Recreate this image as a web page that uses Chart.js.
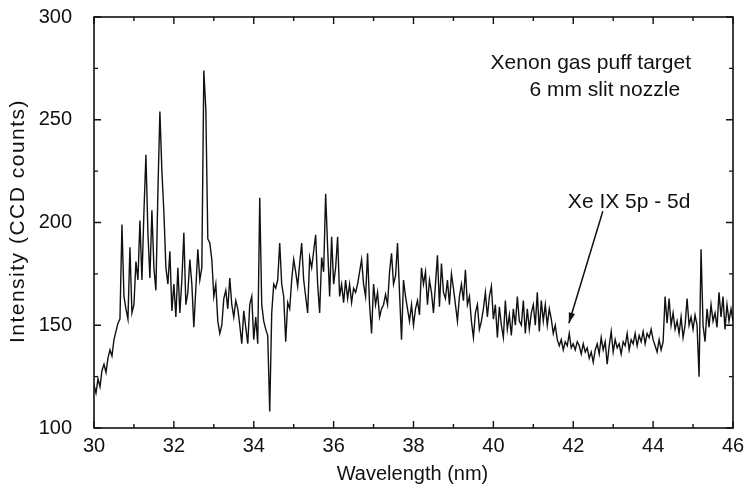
<!DOCTYPE html>
<html>
<head>
<meta charset="utf-8">
<script src="https://cdn.jsdelivr.net/npm/chart.js@4/dist/chart.umd.min.js"></script>
<style>
  html, body { margin: 0; padding: 0; background: #fff; }
  #wrap { width: 745px; height: 493px; }
</style>
</head>
<body>
<div id="wrap"><canvas id="myChart"></canvas></div>
<script>
// spectrum sampled every 0.05 nm, starting at 30 nm
var startNm = 30;
var stepNm = 0.05;
var intensity = [
  // 30 - 31
  121, 117, 124, 120, 128, 131, 127, 134, 138, 135, 143, 147, 151, 153, 199, 164, 158, 153, 188, 156,
  // 31 - 32
  160, 181, 172, 201, 172, 205, 233, 195, 173, 206, 178, 167, 215, 254, 225, 205, 178, 170, 186, 157,
  // 32 - 33
  170, 154, 178, 156, 172, 195, 160, 166, 182, 170, 149, 168, 187, 172, 178, 274, 255, 192, 190, 182,
  // 33 - 34
  164, 170, 152, 146, 150, 163, 167, 158, 173, 160, 154, 162, 158, 150, 141, 157, 149, 141, 160, 164,
  // 34 - 35
  143, 154, 141, 212, 160, 152, 148, 145, 108, 156, 170, 168, 172, 190, 170, 164, 142, 161, 158, 172,
  // 35 - 36
  182, 176, 169, 180, 190, 172, 164, 156, 183, 178, 186, 194, 170, 156, 183, 176, 214, 188, 164, 193,
  // 36 - 37
  170, 178, 193, 164, 170, 161, 172, 163, 170, 161, 168, 166, 170, 176, 182, 170, 164, 185, 160, 146,
  // 37 - 38
  170, 160, 166, 154, 158, 160, 165, 160, 176, 185, 170, 174, 190, 166, 143, 172, 164, 158, 152, 160,
  // 38 - 39
  150, 158, 162, 155, 178, 170, 176, 160, 172, 166, 156, 170, 184, 159, 180, 166, 163, 172, 160, 175,
  // 39 - 40
  168, 160, 152, 164, 170, 162, 177, 160, 164, 152, 144, 156, 160, 148, 152, 158, 166, 154, 164, 169,
  // 40 - 41
  153, 160, 144, 159, 150, 144, 162, 148, 155, 145, 158, 150, 164, 152, 150, 162, 146, 158, 148, 156,
  // 41 - 42
  160, 150, 166, 147, 162, 152, 160, 150, 158, 153, 146, 150, 143, 140, 143, 138, 142, 140, 146, 139,
  // 42 - 43
  141, 138, 142, 140, 136, 141, 137, 139, 134, 137, 132, 138, 141, 136, 144, 138, 142, 131, 140, 147,
  // 43 - 44
  137, 143, 139, 141, 136, 142, 140, 146, 138, 143, 141, 146, 140, 145, 142, 147, 141, 146, 144, 148,
  // 44 - 45
  143, 140, 137, 143, 138, 142, 164, 151, 163, 150, 156, 148, 152, 146, 154, 144, 150, 163, 150, 154,
  // 45 - 46
  148, 155, 150, 125, 187, 150, 142, 158, 149, 160, 152, 156, 149, 166, 154, 164, 148, 160, 152, 158,
  152
];

var xTicks = [30, 32, 34, 36, 38, 40, 42, 44, 46];
var yTicks = [100, 150, 200, 250, 300];
var xTitle = 'Wavelength (nm)';
var yTitle = 'Intensity (CCD counts)';

// text notes in data units
var notes = [
  { text: 'Xenon gas puff target', x: 42.44, y: 277.5 },
  { text: '6 mm slit nozzle', x: 42.79, y: 264.5 },
  { text: 'Xe IX 5p - 5d', x: 43.40, y: 210 }
];
var arrowFrom = { x: 42.74, y: 205.5 };
var arrowTo = { x: 41.89, y: 151 };

var points = [];
for (var i = 0; i < intensity.length; i++) {
  points.push({ x: +(startNm + i * stepNm).toFixed(2), y: intensity[i] });
}

var fontFam = '"Liberation Sans", Arial, sans-serif';

var framePlugin = {
  id: 'frame',
  afterDraw: function(chart) {
    var c = chart.ctx;
    var a = chart.chartArea;
    var xs = chart.scales.x, ys = chart.scales.y;
    c.save();
    c.strokeStyle = '#111';
    c.lineWidth = 1.6;
    c.strokeRect(a.left, a.top, a.right - a.left, a.bottom - a.top);
    c.lineWidth = 1.4;
    c.beginPath();
    for (var v = 30; v <= 46; v++) {
      var px = xs.getPixelForValue(v);
      var len = v % 2 === 0 ? 7 : 4;
      c.moveTo(px, a.bottom); c.lineTo(px, a.bottom - len);
      c.moveTo(px, a.top); c.lineTo(px, a.top + len);
    }
    for (var w = 100; w <= 300; w += 25) {
      var py = ys.getPixelForValue(w);
      var l2 = w % 50 === 0 ? 7 : 4;
      c.moveTo(a.left, py); c.lineTo(a.left + l2, py);
      c.moveTo(a.right, py); c.lineTo(a.right - l2, py);
    }
    c.stroke();

    c.fillStyle = '#111';
    c.textAlign = 'center';
    c.textBaseline = 'middle';

    // axis titles
    c.font = '20px ' + fontFam;
    c.fillText(xTitle, (a.left + a.right) / 2 - 1, 474);
    c.save();
    c.translate(18, 221);
    c.rotate(-Math.PI / 2);
    c.font = '21px ' + fontFam;
    c.letterSpacing = '1.5px';
    c.fillText(yTitle, 0, 0);
    c.restore();

    c.font = '21px ' + fontFam;
    notes.forEach(function(n) {
      c.fillText(n.text, xs.getPixelForValue(n.x), ys.getPixelForValue(n.y));
    });

    var x1 = xs.getPixelForValue(arrowFrom.x), y1 = ys.getPixelForValue(arrowFrom.y);
    var x2 = xs.getPixelForValue(arrowTo.x), y2 = ys.getPixelForValue(arrowTo.y);
    c.lineWidth = 1.5;
    c.beginPath();
    c.moveTo(x1, y1); c.lineTo(x2, y2);
    c.stroke();
    var ang = Math.atan2(y2 - y1, x2 - x1);
    c.beginPath();
    c.moveTo(x2, y2);
    c.lineTo(x2 - 11 * Math.cos(ang - 0.3), y2 - 11 * Math.sin(ang - 0.3));
    c.lineTo(x2 - 11 * Math.cos(ang + 0.3), y2 - 11 * Math.sin(ang + 0.3));
    c.closePath();
    c.fill();
    c.restore();
  }
};

var ctx = document.getElementById('myChart').getContext('2d');
var myChart = new Chart(ctx, {
  type: 'scatter',
  data: {
    datasets: [{
      data: points,
      showLine: true,
      borderColor: '#111',
      borderWidth: 1.4,
      pointRadius: 0,
      tension: 0
    }]
  },
  options: {
    responsive: true,
    maintainAspectRatio: false,
    animation: false,
    layout: { padding: { left: 5, right: 12, top: 17, bottom: 8 } },
    plugins: { legend: { display: false }, tooltip: { enabled: false } },
    scales: {
      x: {
        type: 'linear',
        min: 30, max: 46,
        afterFit: function(s) { s.height = 57; s.paddingLeft = 0; s.paddingRight = 0; },
        afterBuildTicks: function(s) { s.ticks = xTicks.map(function(v) { return { value: v }; }); },
        grid: { display: false },
        border: { display: false },
        ticks: { color: '#111', padding: 0, font: { size: 20, family: fontFam, lineHeight: 1 }, maxRotation: 0 }
      },
      y: {
        min: 100, max: 300,
        afterFit: function(s) { s.width = 89; s.paddingTop = 0; s.paddingBottom = 0; },
        afterBuildTicks: function(s) { s.ticks = yTicks.map(function(v) { return { value: v }; }); },
        grid: { display: false },
        border: { display: false },
        ticks: { color: '#111', padding: 14, font: { size: 20, family: fontFam } }
      }
    }
  },
  plugins: [framePlugin]
});
</script>
</body>
</html>
